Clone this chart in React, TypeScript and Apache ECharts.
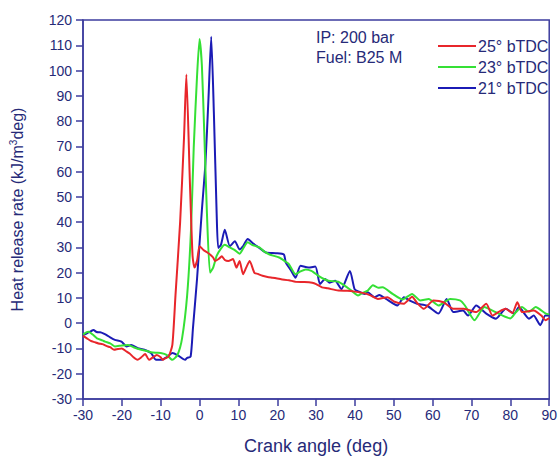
import React, { useEffect, useRef } from "react";
import * as echarts from "echarts";

// Crank angle (deg) / heat release rate (kJ/m3deg) pairs
const series25: [number, number][] = [
  [-30, -5], [-29, -6], [-28, -7], [-27, -7.5], [-26, -8], [-25, -8.3], [-24, -9], [-23, -9.5],
  [-22, -10.5], [-21, -10.2], [-20, -10], [-19, -11], [-18, -12], [-17, -13.5], [-16, -14.5],
  [-15, -13.5], [-14, -12.2], [-13, -14.5], [-12, -13.5], [-11, -12.6], [-10, -13.5], [-9.5, -14.5],
  [-9, -14], [-8, -13.3], [-7, -8.6], [-6.2, 10.9], [-5, 40], [-4, 73.4], [-3.4, 98.4], [-2.5, 56.5],
  [-1.8, 26.6], [-1.3, 22], [-0.6, 25], [0, 30.5], [1, 29], [2, 28], [2.7, 27.2], [3.5, 26], [4, 24.6],
  [5, 25.5], [5.7, 26.5], [6.5, 25], [7.4, 24.6], [8.6, 25.4], [9.5, 22], [10.3, 24.6], [11.2, 19.4],
  [12, 22], [12.9, 24.6], [14.1, 20], [15, 19.5], [16.2, 18.75], [17.5, 18.3], [18.8, 18], [20, 17.7],
  [21, 17.4], [23, 17], [24.7, 16.4], [27, 16.3], [29, 16], [30, 15.5], [31.5, 14.2], [33, 13.8],
  [35.7, 12.9], [38, 12.8], [40, 12.5], [42, 12], [44, 11], [45.9, 9.6], [48.4, 10.3], [50, 8.6],
  [52.6, 7.7], [54.7, 10.5], [56, 8], [57.7, 5.7], [60.2, 9], [62.8, 8.3], [65.3, 5.7], [68, 5.7],
  [71.2, 4.4], [73.8, 7.7], [75.4, 3], [77, 4.5], [78.8, 5.7], [80.5, 4], [81.8, 8.3], [83, 4.4],
  [86, 5], [88, 3], [89, 1.2], [90, 2],
];

const series23: [number, number][] = [
  [-30, -4.5], [-29, -3.5], [-28.6, -3.4], [-27.5, -4.5], [-26.4, -6], [-25, -6.8], [-24.3, -7.3],
  [-23, -8], [-21.8, -9.2], [-20, -8.8], [-18.4, -8.6], [-17, -9.5], [-15, -10.5], [-13.5, -11],
  [-12.5, -11.5], [-11, -11.7], [-10, -11.8], [-8.5, -12.5], [-7, -14.5], [-5.7, -12.6], [-4.5, -6],
  [-3.2, 10.9], [-2.2, 37], [-1.5, 69.5], [-0.65, 97.7], [0, 112.5], [0.6, 102], [1.2, 76], [1.9, 43.5],
  [2.7, 20], [3.5, 22], [4.4, 26.6], [5.5, 29.5], [6.5, 31], [7.8, 30], [9, 29], [10.3, 27.5],
  [11.2, 29.5], [12.4, 32], [13.5, 31], [15.4, 30], [16.5, 28.5], [18, 27.2], [20.5, 26], [22, 24.5],
  [23, 23.4], [24.7, 19.4], [26, 20.5], [27.3, 21.3], [28.8, 20.7], [30.6, 18.75], [32, 17.5],
  [33.2, 16.8], [35.7, 16.4], [37.4, 14.8], [39, 13], [40.8, 11], [42, 12], [43.3, 12.9], [44.6, 15],
  [46, 14], [47.1, 14.2], [49.7, 11.6], [52.2, 9.4], [54.7, 11.6], [56.8, 9], [59, 9.6], [61.5, 7],
  [64.5, 9.6], [67, 9], [68.3, 7], [70.8, 1.2], [73.3, 6.4], [75.4, 5], [78, 3], [80, 1.9], [81.4, 4.3],
  [83, 6.4], [84.8, 4.5], [86.5, 6.4], [89, 3.9], [90, 3.5],
];

const series21: [number, number][] = [
  [-30, -4.7], [-29, -4], [-28, -3.2], [-27.3, -2.7], [-26.5, -3.5], [-25.6, -3.6], [-24.8, -4],
  [-23.9, -4.7], [-23, -5.6], [-21.8, -6.6], [-20.1, -7.3], [-18.8, -9.2], [-17.6, -8.6], [-15.9, -9.9],
  [-14.2, -10.5], [-12.5, -11.8], [-11.2, -14.5], [-10, -14.5], [-8.3, -13.3], [-7, -11.8],
  [-5.7, -12.6], [-3.7, -14.5], [-3.2, -13.7], [-2.3, -13.2], [-1.7, -2], [-0.65, 17.5], [0.6, 44.8],
  [1.5, 63], [2.3, 89], [3.0, 113.4], [3.7, 82.5], [4.4, 43.5], [4.8, 29.8], [5.5, 31], [6.5, 37],
  [7.8, 30.5], [9.1, 32.4], [10.3, 29.2], [11.2, 30.5], [12.4, 33.3], [13.8, 31.5], [15.4, 29.8],
  [17.1, 28], [19.6, 27.7], [21.7, 27.2], [22.2, 24], [23.5, 21], [24.7, 18], [26, 22.7], [28, 22],
  [29.8, 22.4], [31, 15.5], [32.3, 17.5], [33.5, 16], [34.9, 16.8], [36.5, 13.5], [38.7, 20.7],
  [39.9, 13.5], [41, 12.5], [42.5, 11.6], [43.3, 12.2], [45, 10.3], [46.3, 11.2], [48, 9.6], [50.9, 7],
  [52.6, 10.3], [54, 9], [56, 7.7], [58.5, 7], [61.5, 3.8], [63.6, 9.6], [65.3, 4.4], [67.8, 5],
  [69.1, 3], [71.2, 7], [73.8, 3.8], [76.3, 1.8], [78.8, 5.7], [81, 3.8], [82.2, 6.4], [84.8, 1.8],
  [86, 3], [87.7, -0.8], [89, 3], [90, 3],
];

const seriesNames = ["25° bTDC", "23° bTDC", "21° bTDC"];
const seriesColors = ["#e8262b", "#35e035", "#1b1bb5"];
const annotations = ["IP: 200 bar", "Fuel: B25 M"];

const FONT = 'Arial, "Liberation Sans", sans-serif';
const AXIS_COLOR = "#3d3d9e";
const TEXT_COLOR = "#262a78";

export default function App() {
  const ref = useRef<HTMLDivElement>(null);
  useEffect(() => {
    if (!ref.current) return;
    const chart = echarts.init(ref.current, undefined, { renderer: "svg" });
    const datasets = [series25, series23, series21];
    chart.setOption({
      animation: false,
      backgroundColor: "#ffffff",
      textStyle: { fontFamily: FONT },
      grid: {
        left: 81, right: 6, top: 20, bottom: 55,
        show: true, borderColor: AXIS_COLOR, borderWidth: 1.5, backgroundColor: "transparent",
      },
      legend: {
        orient: "vertical",
        left: 433,
        top: 32,
        icon: "rect",
        itemWidth: 38,
        itemHeight: 2,
        itemGap: 3,
        textStyle: { fontSize: 16, color: TEXT_COLOR, fontFamily: FONT, lineHeight: 18, padding: [0, 0, 0, -3] },
        data: seriesNames,
      },
      xAxis: {
        type: "value",
        min: -30, max: 90, interval: 10,
        name: "Crank angle (deg)",
        nameLocation: "middle",
        nameGap: 38,
        nameTextStyle: { fontSize: 18, color: TEXT_COLOR, fontFamily: FONT },
        axisLine: { show: true, onZero: false, lineStyle: { color: AXIS_COLOR, width: 1.5 } },
        axisTick: { show: true, inside: false, length: 7, lineStyle: { color: AXIS_COLOR, width: 1.5 } },
        axisLabel: { fontSize: 14, color: TEXT_COLOR, margin: 9, fontFamily: FONT },
        splitLine: { show: false },
      },
      yAxis: {
        type: "value",
        min: -30, max: 120, interval: 10,
        name: "Heat release rate (kJ/m{sup|3}deg)",
        nameLocation: "middle",
        nameGap: 57,
        nameTextStyle: {
          fontSize: 16, color: TEXT_COLOR, fontFamily: FONT,
          rich: { sup: { fontSize: 10, color: TEXT_COLOR, fontFamily: FONT, verticalAlign: "top", padding: [0, 0, 8, 0] } },
        },
        axisLine: { show: true, onZero: false, lineStyle: { color: AXIS_COLOR, width: 1.5 } },
        axisTick: { show: true, inside: false, length: 7, lineStyle: { color: AXIS_COLOR, width: 1.5 } },
        axisLabel: { fontSize: 14, color: TEXT_COLOR, margin: 11, fontFamily: FONT },
        splitLine: { show: false },
      },
      graphic: annotations.map((t, i) => ({
        type: "text",
        left: 316,
        top: 29 + i * 20,
        style: { text: t, fontSize: 16, fill: TEXT_COLOR, fontFamily: FONT },
      })),
      series: datasets.map((d, i) => ({
        name: seriesNames[i],
        type: "line",
        data: d,
        showSymbol: false,
        symbol: "none",
        smooth: 0.2,
        lineStyle: { color: seriesColors[i], width: 2 },
        itemStyle: { color: seriesColors[i] },
        z: 3 - i,
      })),
    });
    return () => chart.dispose();
  }, []);
  return <div ref={ref} style={{ position: "fixed", left: 0, top: 0, width: 560, height: 460 }} />;
}
